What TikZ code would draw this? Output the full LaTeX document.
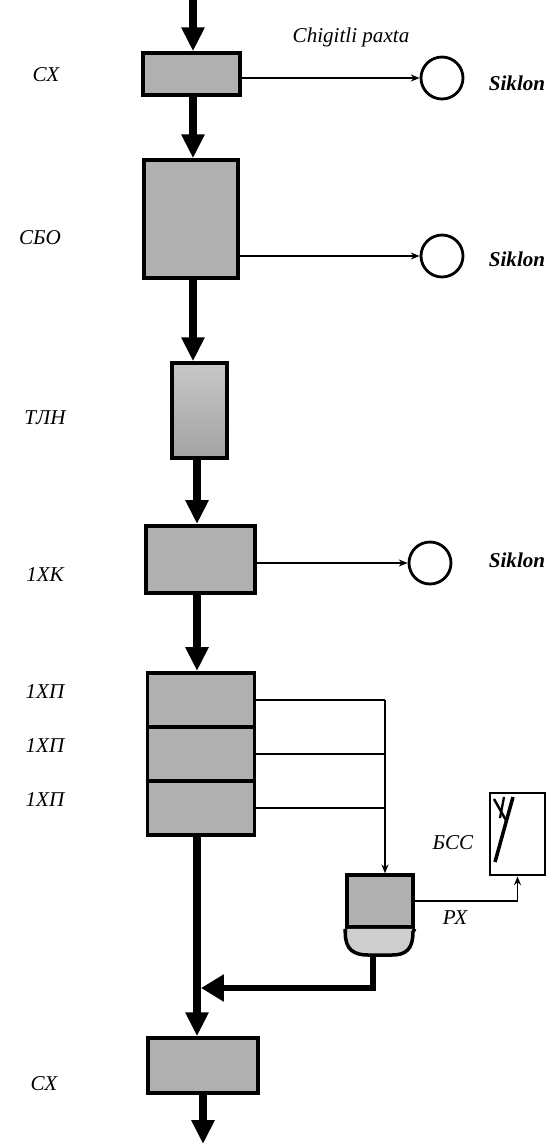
\documentclass[tikz,border=0pt]{standalone}
\usepackage{fontspec}
\setmainfont{Liberation Serif}
\usepackage{xcolor}
\usepackage{tikz}
\usetikzlibrary{arrows.meta, positioning, calc}
\definecolor{boxgray}{RGB}{176,176,176}
\definecolor{bowlgray}{RGB}{206,206,206}
\tikzset{
  unit/.style={rectangle, draw=black, fill=boxgray, line width=2pt, inner sep=0pt},
  siklon/.style={circle, draw=black, fill=white, line width=1.6pt,
    minimum size=0.84cm, inner sep=0pt},
  flow/.style={-{Triangle[width=0.44cm, length=0.48cm]}, line width=4.5pt},
  pipe/.style={line width=0.8pt, color=black},
  pipearrow/.style={-{Stealth[length=5pt, width=4pt]}, line width=0.8pt},
  lbl/.style={font=\fontsize{12}{14}\selectfont\itshape},
  sklbl/.style={font=\fontsize{12}{14}\selectfont\itshape\bfseries}
}
\begin{document}
\begin{tikzpicture}[x=0.02cm, y=-0.02cm]
  \useasboundingbox (0,0) rectangle (551,1144);

  % Units of the line
  \node[unit, minimum width=1.94cm, minimum height=0.84cm] (cxa) at (191.5,74) {};
  \node[unit, minimum width=1.88cm, minimum height=2.36cm] (sbo) at (191,219) {};
  \node[unit, minimum width=1.10cm, minimum height=1.90cm,
        top color=black!22, bottom color=black!36] (tln) at (199.5,410.5) {};
  \node[unit, minimum width=2.18cm, minimum height=1.34cm] (kx) at (200.5,559.5) {};
  \foreach \i/\y in {1/700, 2/754, 3/808} {
    \node[unit, minimum width=2.14cm, minimum height=1.08cm] (xp\i) at (201,\y) {};
    \node[lbl] (lxp\i) at (45,\y-8) {1ХП};
  }
  \node[unit, minimum width=2.20cm, minimum height=1.10cm] (cxb) at (203,1065.5) {};

  % Labels on the left
  \node[lbl] (lcxa) at (46,75) {СХ};
  \node[lbl] (lsbo) at (40,238) {СБО};
  \node[lbl] (ltln) at (45,418) {ТЛН};
  \node[lbl] (lkx) at (45,575) {1ХК};
  \node[lbl] (lcxb) at (44,1084) {СХ};

  % Cyclones
  \node[siklon] (sk1) at (442,78) {};
  \node[siklon] (sk2) at (442,256) {};
  \node[siklon] (sk3) at (430,563) {};
  \node[sklbl] (lsk1) at (517,83) {Siklon};
  \node[sklbl] (lsk2) at (517,259) {Siklon};
  \node[sklbl] (lsk3) at (517,560) {Siklon};
  \node[lbl] (lin) at (351,37) {Chigitli paxta};

  \draw[pipearrow] ([yshift=-0.08cm]cxa.east) -- ([yshift=-0.08cm]cxa.east -| sk1.west);
  \draw[pipearrow] ([yshift=-0.74cm]sbo.east) -- ([yshift=-0.74cm]sbo.east -| sk2.west);
  \draw[pipearrow] ([yshift=-0.07cm]kx.east) -- ([yshift=-0.07cm]kx.east -| sk3.west);

  % Main flow
  \coordinate (in) at (193,0);
  \coordinate (out) at (203,1144);
  \draw[flow] (in) -- (in |- cxa.north);
  \draw[flow] (cxa.south -| in) -- (in |- sbo.north);
  \draw[flow] (sbo.south -| in) -- (in |- tln.north);
  \draw[flow] (197,458) -- (197,524);
  \draw[flow] (197,593) -- (197,671);

  % Separator RX and BSS
  \node[unit, minimum width=1.32cm, minimum height=1.04cm] (rx) at (380,901) {};
  \draw[fill=bowlgray, line width=2pt] (rx.south west) -- ++(0,4)
    .. controls +(0,17) and +(-14,0) .. (368,955) -- (392,955)
    .. controls +(14,0) and +(0,17) .. (413,932) -- (rx.south east);
  \coordinate (bw) at (373,955);
  \node[unit, fill=white, line width=1.6pt, minimum width=1.10cm, minimum height=1.64cm] (bss) at (517.5,834) {};
  \draw[line width=1.4pt] (494,799) -- (507,822);
  \draw[line width=1.3pt] (504,797) -- (500,818);
  \draw[line width=2pt] (513,797) -- (495,862);
  \node[lbl] (lbss) at (453,843) {БСС};
  \node[lbl] (lrx) at (455,918) {РХ};

  \coordinate (jn) at (385,700);
  \foreach \i in {1,2,3} {
    \draw[pipe] (xp\i.east) -- (xp\i.east -| jn);
  }
  \draw[pipearrow] (jn) -- (jn |- rx.north);
  \draw[pipearrow] (rx.east) -- (rx.east -| bss.south) -- (bss.south);

  % Return to the main line
  \coordinate (mj) at (197,988);
  \draw[flow] (xp3.south -| mj) -- (mj |- cxb.north);
  \draw[line width=3.5pt, -{Triangle[width=0.52cm, length=0.46cm]}]
    (bw) -- (bw |- mj) -- ([xshift=0.08cm]mj);
  \draw[flow] (cxb.south) -- (out);
\end{tikzpicture}
\end{document}
